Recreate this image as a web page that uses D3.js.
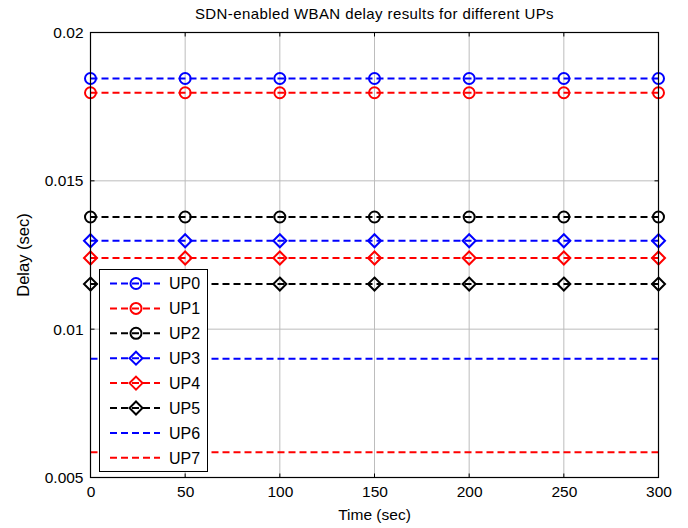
<!DOCTYPE html>
<html><head><meta charset="utf-8">
<script src="https://cdn.jsdelivr.net/npm/d3@7"></script>
<style>body{margin:0;background:#fff}svg{display:block}</style>
</head><body>
<svg id="c" width="688" height="528"></svg>
<script>
const times = [0, 50, 100, 150, 200, 250, 300];
const seriesNames = ["UP0","UP1","UP2","UP3","UP4","UP5","UP6","UP7"];
const seriesDelay = [0.01845, 0.01797, 0.01378, 0.01298, 0.01240, 0.01152, 0.00900, 0.00585];
const seriesColors = ["#0000ff","#ff0000","#000000","#0000ff","#ff0000","#000000","#0000ff","#ff0000"];
const seriesMarkers = ["circle","circle","circle","diamond","diamond","diamond","none","none"];
const xTicks = [0, 50, 100, 150, 200, 250, 300];
const yTicks = [0.005, 0.01, 0.015, 0.02];
const yTickLabels = ["0.005", "0.01", "0.015", "0.02"];

const svg = d3.select("#c");
const L = 90.5, R = 658.5, T = 32.5, B = 477.5;
const x = d3.scaleLinear().domain([0, 300]).range([L, R]);
const y = d3.scaleLinear().domain([0.005, 0.02]).range([B, T]);
const font = "Liberation Sans, Arial, sans-serif";

// grid
const g = svg.append("g");
g.selectAll(".gx").data(xTicks).join("line")
  .attr("x1", d => x(d)).attr("x2", d => x(d)).attr("y1", T).attr("y2", B)
  .attr("stroke", "#bdbdbd").attr("stroke-width", 1);
g.selectAll(".gy").data(yTicks).join("line")
  .attr("x1", L).attr("x2", R).attr("y1", d => y(d)).attr("y2", d => y(d))
  .attr("stroke", "#bdbdbd").attr("stroke-width", 1);

// axes
const axB = d3.axisBottom(x).tickValues(xTicks).tickSize(0).tickPadding(6).tickFormat(d3.format("d"));
const axL = d3.axisLeft(y).tickValues(yTicks).tickSize(0).tickPadding(7).tickFormat((d,i) => yTickLabels[i]);
const gb = svg.append("g").attr("transform", `translate(0,${B})`).call(axB);
const gl = svg.append("g").attr("transform", `translate(${L},0)`).call(axL);
[gb, gl].forEach(a => {
  a.select(".domain").remove();
  a.selectAll("text").attr("font-family", font).attr("font-size", 15.5).attr("fill", "#000");
});
gb.selectAll("text").attr("dy", "0.85em");

// inner ticks
const tk = 4;
const tg = svg.append("g").attr("stroke", "#000").attr("stroke-width", 1);
xTicks.forEach(t => {
  tg.append("line").attr("x1", x(t)).attr("x2", x(t)).attr("y1", B).attr("y2", B - tk);
  tg.append("line").attr("x1", x(t)).attr("x2", x(t)).attr("y1", T).attr("y2", T + tk);
});
yTicks.forEach(t => {
  tg.append("line").attr("x1", L).attr("x2", L + tk).attr("y1", y(t)).attr("y2", y(t));
  tg.append("line").attr("x1", R).attr("x2", R - tk).attr("y1", y(t)).attr("y2", y(t));
});

// series
const series = seriesNames.map((n, i) => ({name: n, color: seriesColors[i], marker: seriesMarkers[i],
  values: times.map(t => ({t, v: seriesDelay[i]}))}));
const line = d3.line().x(d => x(d.t)).y(d => y(d.v));
const diamond = (r) => `M0,${-r}L${r},0L0,${r}L${-r},0Z`;
function drawMarker(sel, type, color) {
  if (type === "circle") sel.append("circle").attr("r", 5.5).attr("fill", "none").attr("stroke", color).attr("stroke-width", 2);
  else if (type === "diamond") sel.append("path").attr("d", diamond(6.5)).attr("fill", "none").attr("stroke", color).attr("stroke-width", 2);
}
series.forEach(s => {
  svg.append("path").attr("d", line(s.values)).attr("fill", "none").attr("stroke", s.color)
    .attr("stroke-width", 2).attr("stroke-dasharray", "7,4");
  if (s.marker !== "none") {
    s.values.forEach(d => {
      const m = svg.append("g").attr("transform", `translate(${x(d.t)},${y(d.v)})`);
      drawMarker(m, s.marker, s.color);
    });
  }
});

// frame
svg.append("rect").attr("x", L).attr("y", T).attr("width", R - L).attr("height", B - T)
  .attr("fill", "none").attr("stroke", "#000").attr("stroke-width", 1.2);

// legend
const lg = svg.append("g");
lg.append("rect").attr("x", 99.5).attr("y", 269.5).attr("width", 108).attr("height", 202)
  .attr("fill", "#fff").attr("stroke", "#000").attr("stroke-width", 1);
series.forEach((s, i) => {
  const cy = 283.5 + i * 24.9;
  lg.append("line").attr("x1", 110).attr("x2", 160).attr("y1", cy).attr("y2", cy)
    .attr("stroke", s.color).attr("stroke-width", 2).attr("stroke-dasharray", "7,4");
  const m = lg.append("g").attr("transform", `translate(136,${cy})`);
  drawMarker(m, s.marker, s.color);
  lg.append("text").attr("x", 169).attr("y", cy).attr("dy", "0.36em").text(s.name)
    .attr("font-family", font).attr("font-size", 16).attr("fill", "#000");
});

// title & labels
svg.append("text").attr("x", (L + R) / 2).attr("y", 19).attr("text-anchor", "middle")
  .attr("font-family", font).attr("font-size", 15).attr("letter-spacing", 0.4)
  .text("SDN-enabled WBAN delay results for different UPs");
svg.append("text").attr("x", (L + R) / 2).attr("y", 520).attr("text-anchor", "middle")
  .attr("font-family", font).attr("font-size", 15.5).text("Time (sec)");
svg.append("text").attr("transform", `translate(29,${(T + B) / 2}) rotate(-90)`).attr("text-anchor", "middle")
  .attr("font-family", font).attr("font-size", 16.5).text("Delay (sec)");
</script>
</body></html>
